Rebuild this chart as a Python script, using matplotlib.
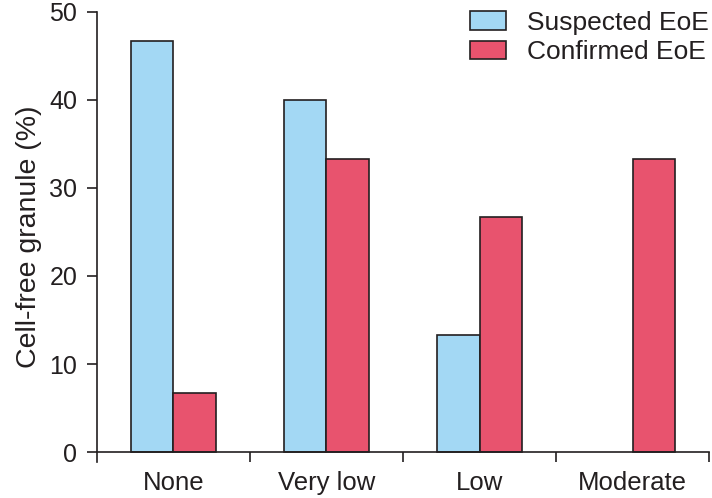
import numpy as np
import matplotlib
matplotlib.use("Agg")
from matplotlib import pyplot as plt

# 数据
categories = ["None", "Very low", "Low", "Moderate"]
suspected = [46.7, 40.0, 13.3, 0.0]
confirmed = [6.7, 33.3, 26.7, 33.3]

plt.rcParams['font.family'] = ['Liberation Sans', 'DejaVu Sans']

fig = plt.figure(figsize=(7.12, 4.98), dpi=100)
ax = fig.add_axes([0.136, 0.072, 0.86, 0.904])

x = np.arange(len(categories))
w = 0.28
edge = '#231f20'
# 0 值不画（原图没有边框线）
s_vals = np.array(suspected)
c_vals = np.array(confirmed)
ms = s_vals > 0
mc = c_vals > 0
ax.bar(x[ms] - w / 2, s_vals[ms], w, color='#a3d8f4', edgecolor=edge, linewidth=1.2, label='Suspected EoE')
ax.bar(x[mc] + w / 2, c_vals[mc], w, color='#e8536e', edgecolor=edge, linewidth=1.2, label='Confirmed EoE')

ax.set_xlim(-0.5, 3.5)
ax.set_ylim(-1.15, 50)
ax.spines['bottom'].set_position(('data', 0))
ax.spines['top'].set_visible(False)
ax.spines['right'].set_visible(False)
for s in ['left', 'bottom']:
    ax.spines[s].set_color(edge)
    ax.spines[s].set_linewidth(1.2)

ax.set_yticks([0, 10, 20, 30, 40, 50])
ax.tick_params(axis='y', length=7, width=1.2, pad=7, labelsize=18, colors=edge)
ax.set_xticks([0.5, 1.5, 2.5, 3.5])
ax.set_xticklabels([])
ax.tick_params(axis='x', which='major', length=7, width=1.2, color=edge)
ax.set_xticks(x, minor=True)
ax.set_xticklabels(categories, minor=True)
ax.tick_params(axis='x', which='minor', length=0, pad=14, labelsize=18.5, labelcolor=edge)

ax.set_ylabel('Cell-free granule (%)', fontsize=20.5, color=edge, labelpad=5)

ax.legend(loc='upper left', bbox_to_anchor=(470 / 712, 1 - 11 / 498), bbox_transform=fig.transFigure,
          frameon=False, fontsize=19, borderpad=0, borderaxespad=0,
          handlelength=1.36, handleheight=0.72, handletextpad=0.8, labelspacing=0.2, labelcolor=edge)

fig.savefig('out.png', dpi=100)
